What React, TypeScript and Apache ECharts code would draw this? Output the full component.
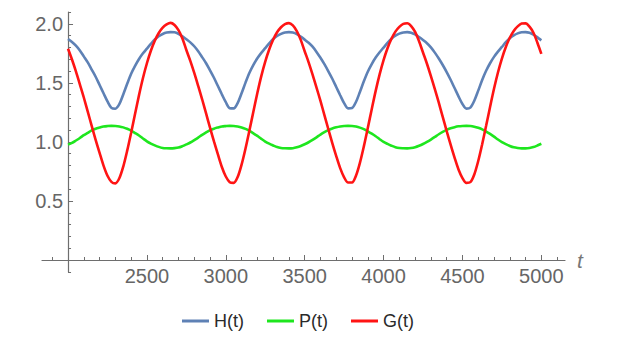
import React, { useEffect, useRef } from "react";
import * as echarts from "echarts";

// time samples t
const T = [
  2000, 2025, 2050, 2075, 2100, 2125, 2150, 2175, 2200, 2225, 2250, 2275,
  2300, 2325, 2350, 2375, 2400, 2425, 2450, 2475, 2500, 2525, 2550, 2575,
  2600, 2625, 2650, 2675, 2700, 2725, 2750, 2775, 2800, 2825, 2850, 2875,
  2900, 2925, 2950, 2975, 3000, 3025, 3050, 3075, 3100, 3125, 3150, 3175,
  3200, 3225, 3250, 3275, 3300, 3325, 3350, 3375, 3400, 3425, 3450, 3475,
  3500, 3525, 3550, 3575, 3600, 3625, 3650, 3675, 3700, 3725, 3750, 3775,
  3800, 3825, 3850, 3875, 3900, 3925, 3950, 3975, 4000, 4025, 4050, 4075,
  4100, 4125, 4150, 4175, 4200, 4225, 4250, 4275, 4300, 4325, 4350, 4375,
  4400, 4425, 4450, 4475, 4500, 4525, 4550, 4575, 4600, 4625, 4650, 4675,
  4700, 4725, 4750, 4775, 4800, 4825, 4850, 4875, 4900, 4925, 4950, 4975,
  5000,
];

// H(t)
const H = [
  1.872, 1.846, 1.815, 1.774, 1.724, 1.673, 1.613, 1.552, 1.482, 1.412, 1.343, 1.288,
  1.281, 1.319, 1.402, 1.492, 1.577, 1.644, 1.702, 1.75, 1.79, 1.83, 1.867, 1.895,
  1.914, 1.926, 1.93, 1.928, 1.915, 1.894, 1.869, 1.843, 1.81, 1.768, 1.718, 1.666,
  1.606, 1.543, 1.473, 1.403, 1.336, 1.286, 1.284, 1.329, 1.412, 1.502, 1.585, 1.652,
  1.708, 1.754, 1.794, 1.834, 1.871, 1.897, 1.915, 1.927, 1.93, 1.926, 1.913, 1.891,
  1.866, 1.839, 1.806, 1.762, 1.712, 1.658, 1.598, 1.535, 1.465, 1.395, 1.328, 1.284,
  1.287, 1.338, 1.423, 1.513, 1.594, 1.659, 1.714, 1.759, 1.799, 1.839, 1.874, 1.9,
  1.917, 1.927, 1.93, 1.925, 1.91, 1.888, 1.863, 1.836, 1.801, 1.756, 1.706, 1.651,
  1.591, 1.526, 1.456, 1.386, 1.321, 1.282, 1.29, 1.348, 1.434, 1.524, 1.602, 1.666,
  1.72, 1.764, 1.804, 1.844, 1.878, 1.902, 1.919, 1.928, 1.93, 1.924, 1.908, 1.885,
  1.86,
];

// P(t)
const P = [
  0.977, 0.992, 1.012, 1.033, 1.057, 1.077, 1.097, 1.111, 1.121, 1.13, 1.134, 1.136,
  1.135, 1.131, 1.123, 1.111, 1.095, 1.075, 1.054, 1.029, 1.005, 0.986, 0.971, 0.958,
  0.949, 0.946, 0.945, 0.947, 0.952, 0.964, 0.979, 0.995, 1.015, 1.036, 1.06, 1.08,
  1.099, 1.112, 1.122, 1.131, 1.134, 1.136, 1.135, 1.13, 1.122, 1.11, 1.093, 1.073,
  1.051, 1.026, 1.003, 0.985, 0.97, 0.956, 0.949, 0.946, 0.945, 0.947, 0.954, 0.965,
  0.98, 0.997, 1.017, 1.039, 1.062, 1.082, 1.1, 1.114, 1.124, 1.131, 1.135, 1.136,
  1.135, 1.13, 1.121, 1.108, 1.09, 1.07, 1.048, 1.023, 1.0, 0.983, 0.968, 0.955,
  0.948, 0.946, 0.945, 0.948, 0.955, 0.967, 0.982, 1.0, 1.02, 1.042, 1.065, 1.085,
  1.102, 1.115, 1.125, 1.132, 1.135, 1.136, 1.135, 1.129, 1.119, 1.106, 1.088, 1.068,
  1.045, 1.02, 0.998, 0.981, 0.966, 0.954, 0.948, 0.945, 0.945, 0.948, 0.956, 0.969,
  0.984,
];

// G(t)
const G = [
  1.789, 1.698, 1.597, 1.487, 1.376, 1.256, 1.136, 1.017, 0.907, 0.799, 0.713, 0.662,
  0.649, 0.692, 0.791, 0.926, 1.078, 1.238, 1.396, 1.541, 1.666, 1.772, 1.857, 1.922,
  1.967, 1.995, 2.008, 1.99, 1.946, 1.876, 1.778, 1.686, 1.584, 1.474, 1.361, 1.241,
  1.121, 1.004, 0.894, 0.788, 0.707, 0.659, 0.653, 0.702, 0.807, 0.944, 1.098, 1.258,
  1.414, 1.557, 1.68, 1.782, 1.865, 1.928, 1.971, 1.997, 2.006, 1.986, 1.938, 1.864,
  1.768, 1.674, 1.57, 1.46, 1.347, 1.227, 1.107, 0.99, 0.88, 0.778, 0.7, 0.656,
  0.656, 0.713, 0.822, 0.962, 1.117, 1.277, 1.432, 1.572, 1.693, 1.793, 1.874, 1.934,
  1.974, 2.0, 2.005, 1.981, 1.931, 1.852, 1.757, 1.662, 1.557, 1.447, 1.332, 1.212,
  1.092, 0.977, 0.867, 0.767, 0.694, 0.653, 0.659, 0.724, 0.838, 0.98, 1.136, 1.296,
  1.45, 1.588, 1.706, 1.804, 1.882, 1.94, 1.978, 2.002, 2.004, 1.976, 1.924, 1.84,
  1.746,
];

const SERIES_NAMES = ["H(t)", "P(t)", "G(t)"];
const X_MAJOR = [2500, 3000, 3500, 4000, 4500, 5000];
const X_MINOR = [
  1900, 2100, 2200, 2300, 2400, 2600, 2700, 2800, 2900, 3100, 3200, 3300, 3400,
  3600, 3700, 3800, 3900, 4100, 4200, 4300, 4400, 4600, 4700, 4800, 4900, 5100,
];
const Y_MAJOR = [0.5, 1.0, 1.5, 2.0];
const Y_MINOR = [
  0.1, 0.2, 0.3, 0.4, 0.6, 0.7, 0.8, 0.9, 1.1, 1.2, 1.3, 1.4, 1.6, 1.7, 1.8,
  1.9, 2.1,
];
const Y_BELOW_TICKS = [-0.1];

const X_MIN = 1835;
const X_MAX = 5150;
const X_ORIGIN = 2000;
const Y_MIN = 0;
const Y_MAX = 2.1;
const Y_BELOW_MIN = -0.1;

const W = 619;
const H_PX = 345;
const GRID_MAIN = { left: 42, right: 54, top: 12, bottom: 85 };
const GRID_BELOW = { left: 42, right: 54, top: 260, bottom: 73 };
const AXIS_COLOR = "#6e6e6e";
const LABEL_COLOR = "#666666";
const FONT = "'Liberation Sans', Arial, sans-serif";
const COLORS = ["#5e81b5", "#1ee61e", "#ff1414"];

export default function App() {
  const ref = useRef<HTMLDivElement>(null);

  useEffect(() => {
    if (!ref.current) return;
    const chart = echarts.init(ref.current, undefined, { renderer: "svg" });
    const gridWidth = W - GRID_MAIN.left - GRID_MAIN.right;
    const yOffset = -((X_ORIGIN - X_MIN) / (X_MAX - X_MIN)) * gridWidth;

    const valuesList = [H, P, G];
    const xAxisBase = {
      type: "value",
      position: "bottom",
      min: X_MIN,
      max: X_MAX,
      splitLine: { show: false },
    };
    const yAxisBase = {
      type: "value",
      position: "left",
      offset: yOffset,
      splitLine: { show: false },
    };

    chart.setOption({
      animation: false,
      textStyle: { fontFamily: FONT },
      grid: [
        { ...GRID_MAIN, containLabel: false },
        { ...GRID_BELOW, containLabel: false },
        { ...GRID_MAIN, containLabel: false },
      ],
      legend: {
        data: SERIES_NAMES,
        icon: "rect",
        left: 177,
        top: 307,
        itemWidth: 27,
        itemHeight: 3,
        itemGap: 23,
        textStyle: { fontSize: 18, color: "#2a2a2a", fontFamily: FONT },
      },
      xAxis: [
        {
          ...xAxisBase,
          gridIndex: 0,
          name: "t",
          nameLocation: "end",
          nameGap: 12,
          nameTextStyle: {
            fontSize: 21,
            fontStyle: "italic",
            color: "#777",
            fontFamily: FONT,
            verticalAlign: "middle",
            padding: [0, 0, 4, 0],
          },
          axisLine: {
            onZero: false,
            lineStyle: { color: AXIS_COLOR, width: 1.2 },
          },
          axisTick: {
            inside: true,
            length: 5,
            customValues: X_MAJOR,
            lineStyle: { color: AXIS_COLOR },
          },
          axisLabel: { show: false },
        },
        {
          ...xAxisBase,
          gridIndex: 0,
          axisLine: { show: false, onZero: false },
          axisTick: {
            inside: true,
            length: 3,
            customValues: X_MINOR,
            lineStyle: { color: AXIS_COLOR },
          },
          axisLabel: { show: false },
        },
        {
          ...xAxisBase,
          gridIndex: 1,
          show: false,
        },
        {
          ...xAxisBase,
          gridIndex: 2,
          axisLine: { show: false, onZero: false },
          axisTick: { show: false },
          axisLabel: {
            customValues: X_MAJOR,
            formatter: (v: number) => String(v),
            fontSize: 20,
            color: LABEL_COLOR,
            margin: 6,
            fontFamily: FONT,
          },
        },
      ],
      yAxis: [
        {
          ...yAxisBase,
          gridIndex: 0,
          min: Y_MIN,
          max: Y_MAX,
          axisLine: {
            show: true,
            onZero: false,
            lineStyle: { color: AXIS_COLOR, width: 1.2 },
          },
          axisTick: {
            show: true,
            inside: true,
            length: 5,
            customValues: Y_MAJOR,
            lineStyle: { color: AXIS_COLOR },
          },
          axisLabel: {
            customValues: Y_MAJOR,
            formatter: (v: number) => v.toFixed(1),
            fontSize: 20,
            color: LABEL_COLOR,
            margin: 5,
            fontFamily: FONT,
          },
        },
        {
          ...yAxisBase,
          gridIndex: 0,
          min: Y_MIN,
          max: Y_MAX,
          axisLine: { show: false, onZero: false },
          axisTick: {
            show: true,
            inside: true,
            length: 3,
            customValues: Y_MINOR,
            lineStyle: { color: AXIS_COLOR },
          },
          axisLabel: { show: false },
        },
        {
          ...yAxisBase,
          gridIndex: 1,
          min: Y_BELOW_MIN,
          max: Y_MIN,
          axisLine: {
            show: true,
            onZero: false,
            lineStyle: { color: AXIS_COLOR, width: 1.2 },
          },
          axisTick: {
            show: true,
            inside: true,
            length: 3,
            customValues: Y_BELOW_TICKS,
            lineStyle: { color: AXIS_COLOR },
          },
          axisLabel: { show: false },
        },
        {
          type: "value",
          gridIndex: 2,
          min: Y_MIN,
          max: Y_MAX,
          show: false,
        },
      ],
      series: SERIES_NAMES.map((name, k) => ({
        name,
        type: "line",
        xAxisIndex: 0,
        yAxisIndex: 0,
        data: T.map((t, i) => [t, valuesList[k][i]]),
        showSymbol: false,
        symbol: "none",
        smooth: 0.3,
        color: COLORS[k],
        lineStyle: { width: 2.6, color: COLORS[k] },
        z: 2 + k,
      })),
    });

    return () => chart.dispose();
  }, []);

  return (
    <div
      ref={ref}
      style={{ position: "fixed", left: 0, top: 0, width: W, height: H_PX, background: "#fff" }}
    />
  );
}
